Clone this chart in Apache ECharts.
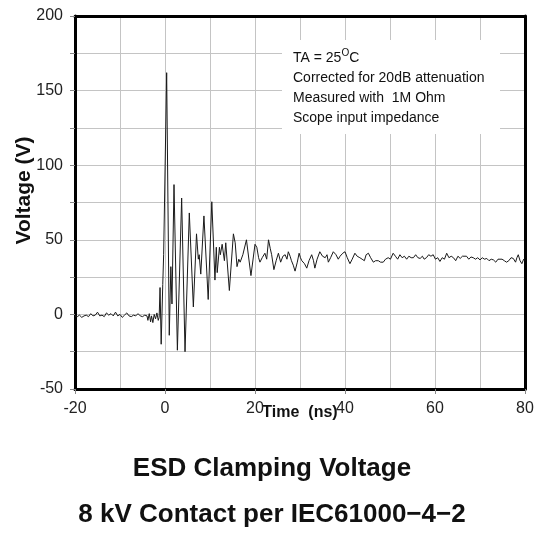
<!DOCTYPE html>
<html>
<head>
<meta charset="utf-8">
<script src="https://cdn.jsdelivr.net/npm/echarts@6/dist/echarts.min.js"></script>
<style>
  html, body { margin: 0; padding: 0; background: #fff; }
  #esd-chart { width: 544px; height: 537px; }
</style>
</head>
<body>
<div id="esd-chart"></div>
<script>
// ESD clamping voltage waveform, [time ns, volts]
const preTrigger = [
  [-20, -1], [-19.5, -1.5], [-19, -0.5], [-18.5, -2], [-18, -1], [-17.5, -0.5], [-17, -1.5],
  [-16.5, 0.5], [-16, -1], [-15.5, -0.5], [-15, 1.5], [-14.5, -1], [-14, -0.5], [-13.5, -1.5],
  [-13, 1], [-12.5, -0.5], [-12, 0.5], [-11.5, -1], [-11, 1.5], [-10.5, -1], [-10, 0],
  [-9.5, -2], [-9, -0.5], [-8.5, 1], [-8, -1], [-7.5, -1.5], [-7, -0.5], [-6.5, -1], [-6, 0.5],
  [-5.5, -1], [-5, -1.5], [-4.5, -0.5], [-4, -1], [-3.8, -4], [-3.5, 0.5], [-3.2, -5], [-3, -1],
  [-2.7, -5.5], [-2.4, 0], [-2.1, -3], [-1.8, 1], [-1.5, -4], [-1.3, -2]
];
const ringing = [
  [-1.1, 18], [-0.85, -20], [-0.5, 20], [-0.3, 40], [0.37, 162], [0.95, -14], [1.3, 32],
  [1.55, 7], [2.0, 87], [2.75, -24], [3.7, 78], [4.45, -25], [5.4, 68], [6.3, 5], [7.0, 54],
  [7.4, 37], [7.6, 40], [7.95, 27], [8.65, 66], [9.6, 10], [10.4, 75.5], [11.1, 23], [11.4, 45],
  [11.6, 28], [12.1, 45], [12.3, 40], [12.7, 47], [13.2, 36], [13.5, 48], [14.3, 16], [15.2, 54],
  [15.6, 48], [16.0, 32], [16.4, 37], [16.7, 35], [17.3, 40], [18.1, 50], [19.1, 26], [20.0, 47],
  [20.4, 45], [20.8, 38]
];
const settled = [
  [21.1, 35], [21.6, 38], [22.2, 41], [22.6, 37], [23.0, 50], [23.4, 44], [23.7, 40], [24.2, 30],
  [24.7, 36], [25.2, 41], [25.7, 35], [26.2, 39], [26.7, 40], [27.1, 37], [27.4, 42], [27.8, 39],
  [28.1, 36], [28.5, 33], [28.9, 29], [29.4, 35], [29.8, 41], [30.1, 38], [30.4, 36], [31.0, 34],
  [31.5, 31], [32.0, 36], [32.6, 40], [33.0, 36], [33.3, 31], [33.8, 37], [34.4, 42], [35.0, 39],
  [35.6, 38], [36.0, 40], [36.3, 35], [36.8, 38], [37.4, 42], [38.0, 40], [38.5, 37], [38.9, 39],
  [39.5, 41], [40.0, 42], [40.5, 38], [41.1, 34], [41.6, 37], [42.2, 41], [42.7, 39], [43.3, 38],
  [43.8, 37], [44.3, 36], [44.7, 40], [45.2, 41], [45.7, 38], [46.3, 35], [46.8, 36], [47.4, 36],
  [47.9, 35], [48.5, 35], [49.0, 37], [49.6, 38], [50.1, 37], [50.7, 41], [51.2, 39], [51.7, 37],
  [52.2, 40], [52.7, 38], [53.2, 39], [53.7, 37], [54.2, 39], [54.7, 38], [55.2, 38], [55.7, 40],
  [56.2, 38], [56.7, 37.5], [57.2, 39], [57.6, 37], [58.1, 38], [58.6, 40], [59.1, 39], [59.6, 40],
  [60.1, 37], [60.6, 38], [61.1, 35.5], [61.6, 38], [62.1, 37], [62.6, 41], [63.1, 38], [63.6, 39],
  [64.1, 38], [64.6, 36], [65.1, 39], [65.6, 37.5], [66.1, 39], [66.5, 38], [67.0, 39], [67.5, 37],
  [68.0, 38.5], [68.5, 38], [69.0, 37], [69.5, 38], [70.0, 36.5], [70.5, 38], [71.0, 37], [71.5, 37.5],
  [72.0, 36], [72.5, 37], [73.0, 36.5], [73.5, 35], [74.0, 37], [74.4, 36], [74.9, 37], [75.4, 36],
  [75.9, 35], [76.4, 36], [76.9, 38], [77.4, 37.5], [77.9, 35], [78.2, 38], [78.5, 40], [78.9, 36],
  [79.3, 34], [79.7, 37], [80, 36]
];
const noteLines = [
  '{n|TA = 25}{s|O}{n|C}',
  'Corrected for 20dB attenuation',
  'Measured with  1M Ohm',
  'Scope input impedance'
];
const titleLines = ['ESD Clamping Voltage', '8 kV Contact per IEC61000\u22124\u22122'];

const FONT = 'Liberation Sans, Arial, sans-serif';
const chart = echarts.init(document.getElementById('esd-chart'));

const gridLine = { show: true, lineStyle: { color: '#c4c4c4', width: 1 } };

const option = {
  animation: false,
  backgroundColor: '#fff',
  grid: { left: 75, right: 19, top: 16, bottom: 148 },
  xAxis: [
    {
      type: 'value', min: -20, max: 80, interval: 20,
      name: 'Time  (ns)', nameLocation: 'middle', nameGap: 16, nameMoveOverlap: false,
      nameTextStyle: { fontFamily: FONT, fontSize: 16, fontWeight: 'bold', color: '#111' },
      axisLine: { show: true, onZero: false, lineStyle: { color: '#000', width: 3 } },
      axisTick: { show: true, length: 5, lineStyle: { color: '#888' } },
      axisLabel: { fontFamily: FONT, fontSize: 16, color: '#222', margin: 12 },
      splitLine: gridLine,
      minorTick: { show: false, splitNumber: 2 },
      minorSplitLine: { show: true, lineStyle: { color: '#c4c4c4', width: 1 } }
    },
    {
      type: 'value', position: 'top', min: -20, max: 80,
      axisLine: { show: true, onZero: false, lineStyle: { color: '#000', width: 3 } },
      axisTick: { show: false }, axisLabel: { show: false }, splitLine: { show: false }
    }
  ],
  yAxis: [
    {
      type: 'value', min: -50, max: 200, interval: 25,
      name: 'Voltage (V)', nameLocation: 'middle', nameGap: 51, nameMoveOverlap: false,
      nameTextStyle: {
        fontFamily: FONT, fontSize: 21, fontWeight: 'bold', color: '#111',
        verticalAlign: 'middle', padding: [0, 0, 0, 24]
      },
      axisLine: { show: true, onZero: false, lineStyle: { color: '#000', width: 3 } },
      axisTick: { show: true, length: 5, lineStyle: { color: '#888' } },
      axisLabel: {
        fontFamily: FONT, fontSize: 16, color: '#222', margin: 12,
        formatter: (v) => (v % 50 === 0 ? String(v) : '')
      },
      splitLine: gridLine
    },
    {
      type: 'value', position: 'right', min: -50, max: 200,
      axisLine: { show: true, onZero: false, lineStyle: { color: '#000', width: 3 } },
      axisTick: { show: false }, axisLabel: { show: false }, splitLine: { show: false }
    }
  ],
  series: [
    {
      type: 'line',
      xAxisIndex: 0, yAxisIndex: 0,
      data: preTrigger.concat(ringing, settled),
      showSymbol: false,
      lineStyle: { color: '#1a1a1a', width: 1 },
      z: 3
    }
  ],
  graphic: [
    {
      type: 'rect', left: 282, top: 40, z: 10,
      shape: { width: 218, height: 94 },
      style: { fill: '#fff' }
    },
    {
      type: 'text', left: 293, top: 48, z: 11,
      style: {
        text: noteLines.join('\n'),
        font: '14px ' + FONT,
        fill: '#111',
        lineHeight: 20,
        rich: {
          n: { fontFamily: FONT, fontSize: 14, lineHeight: 20, fill: '#111' },
          s: { fontFamily: FONT, fontSize: 10, lineHeight: 20, fill: '#111', verticalAlign: 'top' }
        }
      }
    },
    {
      type: 'text', left: 'center', top: 456, z: 11,
      style: { text: titleLines[0], font: 'bold 26px ' + FONT, fill: '#111' }
    },
    {
      type: 'text', left: 'center', top: 502, z: 11,
      style: { text: titleLines[1], font: 'bold 26px ' + FONT, fill: '#111' }
    }
  ]
};

chart.setOption(option);
</script>
</body>
</html>
